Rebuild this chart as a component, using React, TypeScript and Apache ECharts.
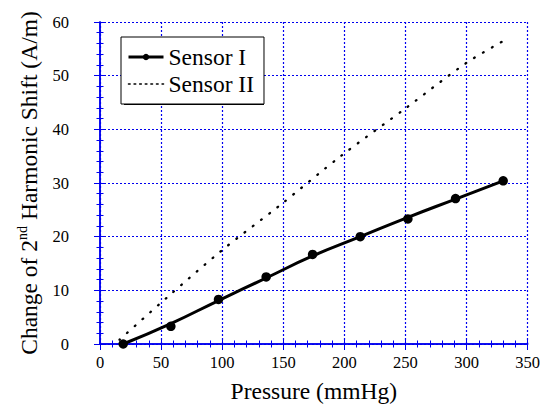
import React, { useEffect, useRef } from "react";
import * as echarts from "echarts";

// Sensor I measured points
const sensorIX = [19, 58, 97, 136, 174, 213, 252, 291, 330];
const sensorIY = [0, 3.3, 8.3, 12.5, 16.7, 20.0, 23.3, 27.1, 30.4];
// Sensor I fitted curve
const fitIX = [19, 58, 97, 136, 174, 213, 252, 291, 330];
const fitIY = [0, 3.8, 8.1, 12.3, 16.4, 20.0, 23.6, 27.0, 30.4];
// Sensor II curve
const sensorIIX = [16, 54, 100, 147, 197, 250, 300, 332];
const sensorIIY = [0.8, 8.5, 17.5, 25.8, 35.0, 43.9, 52.4, 56.7];
const xTicks = { min: 0, max: 350, interval: 50 };
const yTicks = { min: 0, max: 60, interval: 10 };

const BLUE = "#0000ee";
const FONT = '"Times New Roman", "Liberation Serif", serif';

export default function App() {
  const ref = useRef<HTMLDivElement>(null);
  useEffect(() => {
    document.body.style.margin = "0";
    if (!ref.current) return;
    const chart = echarts.init(ref.current, undefined, { renderer: "svg" });
    const axisCommon = {
      type: "value" as const,
      axisLine: { show: true, lineStyle: { color: BLUE, width: 1.5 } },
      axisTick: { show: true, inside: true, length: 6, lineStyle: { color: BLUE, width: 1 } },
      minorTick: { show: true, splitNumber: 5, length: 3.5, lineStyle: { color: BLUE, width: 1 } },
    };
    const ptData = sensorIX.map((x, i) => [x, sensorIY[i]]);
    const fitData = fitIX.map((x, i) => [x, fitIY[i]]);
    const s2Data = sensorIIX.map((x, i) => [x, sensorIIY[i]]);
    chart.setOption({
      animation: false,
      backgroundColor: "#ffffff",
      textStyle: { fontFamily: FONT },
      grid: { left: 100, right: 13, top: 22, bottom: 62 },
      xAxis: [
        {
          ...axisCommon,
          position: "bottom",
          min: xTicks.min,
          max: xTicks.max,
          interval: xTicks.interval,
          name: "Pressure (mmHg)",
          nameLocation: "middle",
          nameGap: 35,
          nameTextStyle: { fontFamily: FONT, fontSize: 23.5, color: "#000" },
          axisLabel: { fontFamily: FONT, fontSize: 16.5, color: "#000", margin: 10 },
          splitLine: { show: true, lineStyle: { color: BLUE, type: [2, 2], width: 1.2 } },
        },
        {
          ...axisCommon,
          position: "top",
          min: xTicks.min,
          max: xTicks.max,
          interval: xTicks.interval,
          axisLabel: { show: false },
          splitLine: { show: false },
        },
      ],
      yAxis: [
        {
          ...axisCommon,
          position: "left",
          min: yTicks.min,
          max: yTicks.max,
          interval: yTicks.interval,
          name: "Change of 2{sup|nd} Harmonic Shift (A/m)",
          nameLocation: "middle",
          nameGap: 57,
          nameTextStyle: {
            fontFamily: FONT,
            fontSize: 23.5,
            color: "#000",
            lineHeight: 26,
            rich: {
              sup: { fontFamily: FONT, fontSize: 14, color: "#000", verticalAlign: "top", lineHeight: 14 },
            },
          },
          axisLabel: { fontFamily: FONT, fontSize: 16.5, color: "#000", margin: 31 },
          splitLine: { show: true, lineStyle: { color: BLUE, type: [2, 2], width: 1.2 } },
        },
        {
          ...axisCommon,
          position: "right",
          min: yTicks.min,
          max: yTicks.max,
          interval: yTicks.interval,
          axisLabel: { show: false },
          splitLine: { show: false },
        },
      ],
      graphic: [
        { type: "rect", shape: { x: 124, y: 40, width: 140, height: 65 }, style: { fill: "#000" }, z: 0 },
      ],
      legend: {
        orient: "vertical",
        left: 121,
        top: 37,
        width: 140,
        backgroundColor: "#ffffff",
        borderColor: "#000",
        borderWidth: 1,
        padding: [8, 10, 8, 6],
        itemWidth: 35,
        itemHeight: 8,
        itemGap: 3,
        z: 10,
        textStyle: { fontFamily: FONT, fontSize: 23.5, color: "#000", lineHeight: 24 },
        data: [
          {
            name: "Sensor I",
            lineStyle: { color: "#000", width: 3, opacity: 1, type: "solid" },
            itemStyle: { color: "#000" },
            textStyle: { fontFamily: FONT, fontSize: 23.5, color: "#000" },
          },
          {
            name: "Sensor II",
            itemStyle: { opacity: 0 },
            lineStyle: { color: "#000", width: 1.6, type: [1.6, 4], cap: "round" },
            textStyle: { fontFamily: FONT, fontSize: 23.5, color: "#000" },
          },
        ],
      },
      series: [
        {
          name: "Sensor II",
          type: "line",
          data: s2Data,
          smooth: 0.3,
          symbol: "none",
          lineStyle: { color: "#000", width: 2.3, type: [0.8, 9.5], cap: "round" },
          itemStyle: { color: "#000" },
        },
        {
          name: "Sensor I fit",
          type: "line",
          data: fitData,
          smooth: 0.5,
          symbol: "none",
          lineStyle: { color: "#000", width: 3 },
          itemStyle: { color: "#000" },
        },
        {
          name: "Sensor I",
          type: "line",
          data: ptData,
          symbol: "circle",
          symbolSize: 9.5,
          lineStyle: { color: "#000", width: 0, opacity: 0 },
          itemStyle: { color: "#000" },
          z: 3,
        },
      ],
    });
    return () => chart.dispose();
  }, []);
  return <div ref={ref} style={{ width: 543, height: 408 }} />;
}
